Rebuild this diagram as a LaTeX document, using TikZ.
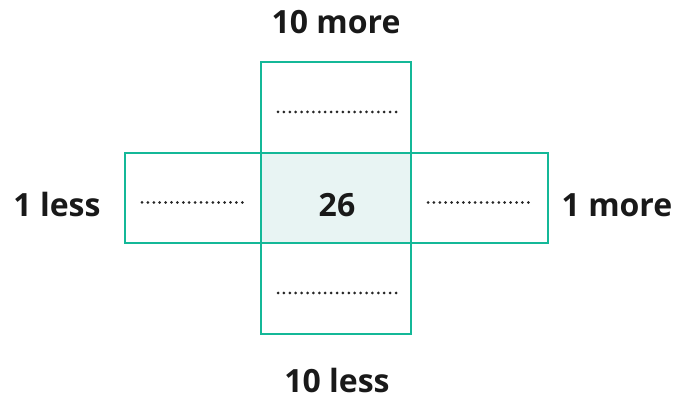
\documentclass[tikz,border=0pt]{standalone}
\usepackage{fontspec}
\setmainfont{Open Sans}
\usetikzlibrary{positioning}
\definecolor{boxgreen}{RGB}{20,184,152}
\definecolor{boxfill}{RGB}{232,244,243}

\tikzset{
	cell/.style={draw=boxgreen, line width=2.4pt, outer sep=0pt, inner sep=0pt},
	dotline/.style={line width=3pt, line cap=round, dash pattern=on 0pt off 5.9pt, black!85},
	lbl/.style={anchor=base, inner sep=0pt, font=\bfseries\fontsize{32}{32}\selectfont, text=black!90}
}

\begin{document}
\begin{tikzpicture}[x=1pt,y=-1pt]
		\useasboundingbox (0,0) rectangle (678,403);

		\node[cell, fill=boxfill, minimum width=150pt, minimum height=90pt] (mid) at (336,198) {};
		\node[cell, minimum width=150pt, minimum height=91pt, above=0pt of mid] (top) {};
		\node[cell, minimum width=150pt, minimum height=91pt, below=0pt of mid] (bot) {};
		\node[cell, minimum width=136pt, minimum height=90pt, left=0pt of mid] (lft) {};
		\node[cell, minimum width=137pt, minimum height=90pt, right=0pt of mid] (rgt) {};

		% answer lines
		\foreach \b in {top,bot,lft,rgt}
			\draw[dotline] ([xshift=17pt,yshift=-4.5pt]\b.west) -- ([xshift=-15pt,yshift=-4.5pt]\b.east);

		\node[lbl] (num) at (337,216.5) {26};

		\node[lbl] (more10) at (336,34) {10 more};
		\node[lbl] (less10) at (337,393) {10 less};
		\node[lbl] (less1) at (57,216.5) {1 less};
		\node[lbl] (more1) at (617,216.5) {1 more};

	\end{tikzpicture}
\end{document}
